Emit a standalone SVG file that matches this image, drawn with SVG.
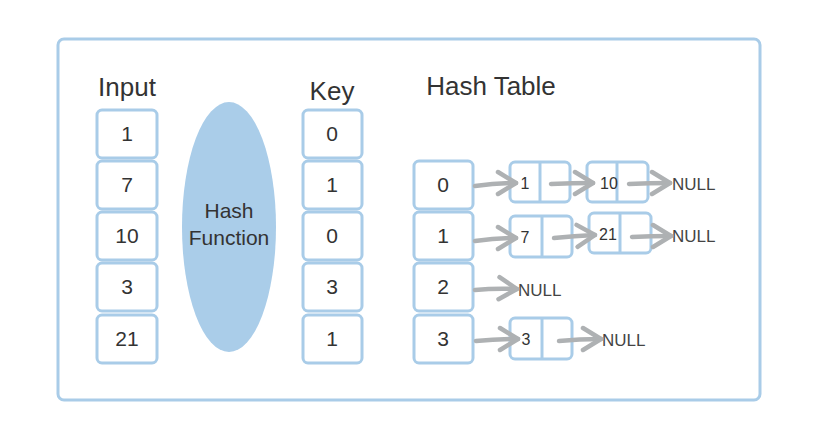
<svg xmlns="http://www.w3.org/2000/svg" width="817" height="441" viewBox="0 0 817 441">
<defs>
<style>
.box{fill:#fff;stroke:#a9cce8;stroke-width:3}
.t{font-family:"Liberation Sans",Arial,sans-serif;fill:#333;text-anchor:middle}
.big{font-size:21px}
.fn{font-size:21px}
.hd{font-size:26px}
.sm{font-size:16px}
.nl{font-family:"Liberation Sans",Arial,sans-serif;font-size:17px;fill:#444}
.ar{fill:none;stroke:#aeb1b3;stroke-width:4.5;stroke-linecap:round}
.div{stroke:#a9cce8;stroke-width:3}
</style>
<marker id="ah" markerUnits="userSpaceOnUse" markerWidth="26" markerHeight="30" refX="21" refY="14" orient="auto">
<path d="M3,3 L21,14 L3,25" fill="none" stroke="#aeb1b3" stroke-width="4.5" stroke-linecap="round" stroke-linejoin="round"/>
</marker>
</defs>
<rect width="817" height="441" fill="#fff"/>
<rect id="frame" x="58" y="39" width="702" height="361" rx="6" fill="none" stroke="#a9cce8" stroke-width="3"/>
<g id="input">
<text class="t hd" x="127" y="96">Input</text>
<g id="in1"><rect class="box" x="97" y="110" width="60" height="48" rx="5"/><text class="t big" x="127" y="141">1</text></g>
<g id="in7"><rect class="box" x="97" y="161" width="60" height="48" rx="5"/><text class="t big" x="127" y="192">7</text></g>
<g id="in10"><rect class="box" x="97" y="212" width="60" height="48" rx="5"/><text class="t big" x="127" y="243">10</text></g>
<g id="in3"><rect class="box" x="97" y="263" width="60" height="48" rx="5"/><text class="t big" x="127" y="294">3</text></g>
<g id="in21"><rect class="box" x="97" y="315" width="60" height="48" rx="5"/><text class="t big" x="127" y="346">21</text></g>
</g>
<g id="hashfn">
<ellipse cx="229" cy="227" rx="47" ry="125" fill="#aacde9"/>
<text class="t fn" x="229" y="218">Hash</text>
<text class="t fn" x="229" y="245">Function</text>
</g>
<g id="key">
<text class="t hd" x="332" y="100">Key</text>
<g id="k0"><rect class="box" x="303" y="110" width="59" height="48" rx="5"/><text class="t big" x="332" y="141">0</text></g>
<g id="k1"><rect class="box" x="303" y="161" width="59" height="48" rx="5"/><text class="t big" x="332" y="192">1</text></g>
<g id="k2"><rect class="box" x="303" y="212" width="59" height="48" rx="5"/><text class="t big" x="332" y="243">0</text></g>
<g id="k3"><rect class="box" x="303" y="263" width="59" height="48" rx="5"/><text class="t big" x="332" y="294">3</text></g>
<g id="k4"><rect class="box" x="303" y="315" width="59" height="48" rx="5"/><text class="t big" x="332" y="346">1</text></g>
</g>
<g id="table">
<text class="t hd" x="491" y="95">Hash Table</text>
<g id="h0"><rect class="box" x="414" y="161" width="59" height="48" rx="5"/><text class="t big" x="443" y="192">0</text></g>
<g id="h1"><rect class="box" x="414" y="212" width="59" height="48" rx="5"/><text class="t big" x="443" y="243">1</text></g>
<g id="h2"><rect class="box" x="414" y="263" width="59" height="48" rx="5"/><text class="t big" x="443" y="294">2</text></g>
<g id="h3"><rect class="box" x="414" y="315" width="59" height="48" rx="5"/><text class="t big" x="443" y="346">3</text></g>
</g>
<g id="n1"><rect class="box" x="510" y="162" width="60" height="40" rx="5"/><line class="div" x1="540" y1="162" x2="540" y2="202"/><text class="t sm" x="525" y="189">1</text></g>
<g id="n10"><rect class="box" x="587" y="162" width="61" height="40" rx="5"/><line class="div" x1="617" y1="162" x2="617" y2="202"/><text class="t sm" x="609" y="189">10</text></g>
<g id="n7"><rect class="box" x="510" y="216" width="62" height="41" rx="5"/><line class="div" x1="542" y1="216" x2="542" y2="257"/><text class="t sm" x="525" y="243">7</text></g>
<g id="n21"><rect class="box" x="589" y="213" width="62" height="40" rx="5"/><line class="div" x1="620" y1="213" x2="620" y2="253"/><text class="t sm" x="608" y="240">21</text></g>
<g id="n3"><rect class="box" x="510" y="318" width="62" height="41" rx="5"/><line class="div" x1="542" y1="318" x2="542" y2="359"/><text class="t sm" x="526" y="345">3</text></g>
<g id="nulls">
<text class="nl" x="672" y="190">NULL</text>
<text class="nl" x="672" y="242">NULL</text>
<text class="nl" x="518" y="296">NULL</text>
<text class="nl" x="602" y="346">NULL</text>
</g>
<g id="connectors">
<path class="ar" marker-end="url(#ah)" d="M475,186 Q495,183 516,183"/>
<path class="ar" marker-end="url(#ah)" d="M551,184 Q572,183 593,183"/>
<path class="ar" marker-end="url(#ah)" d="M629,184 Q649,183 670,183"/>
<path class="ar" marker-end="url(#ah)" d="M475,241 Q495,238 516,238"/>
<path class="ar" marker-end="url(#ah)" d="M554,238 Q574,236 595,235"/>
<path class="ar" marker-end="url(#ah)" d="M632,237 Q651,236 671,236"/>
<path class="ar" marker-end="url(#ah)" d="M475,290 Q495,288 517,289"/>
<path class="ar" marker-end="url(#ah)" d="M476,341 Q496,339 518,339"/>
<path class="ar" marker-end="url(#ah)" d="M559,341 Q579,339 601,339"/>
</g>
</svg>
